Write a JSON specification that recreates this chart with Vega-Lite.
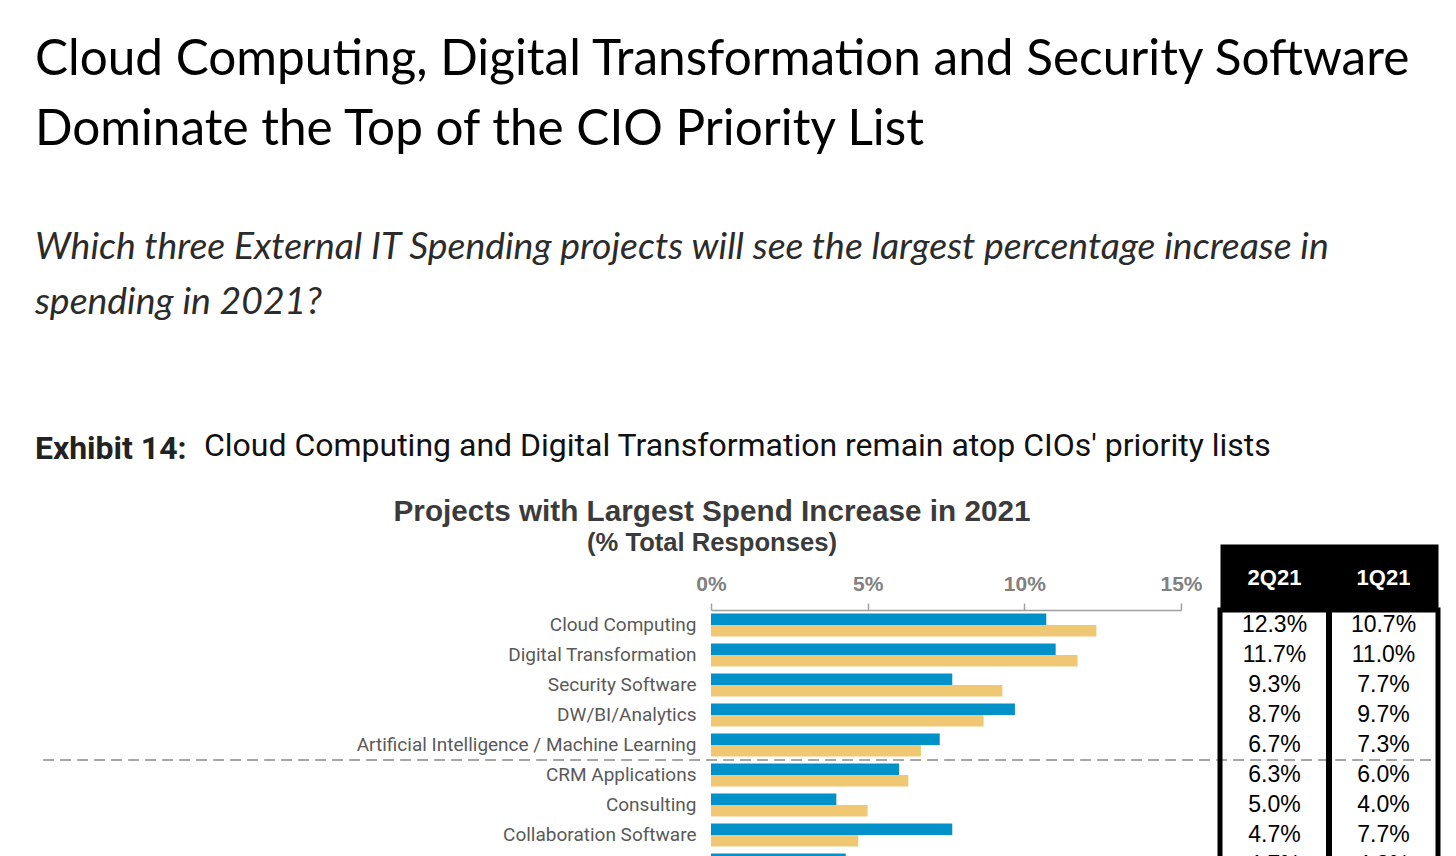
{
  "$schema": "https://vega.github.io/schema/vega-lite/v6.json",
  "background": "white",
  "padding": {"left": 34, "top": 34, "right": 5, "bottom": 0},
  "title": {
    "text": ["Cloud Computing, Digital Transformation and Security Software", "Dominate the Top of the CIO Priority List"],
    "subtitle": ["Which three External IT Spending projects will see the largest percentage increase in", "spending in 2021?"],
    "anchor": "start",
    "dx": 0,
    "font": "Lato",
    "fontSize": 49.5,
    "fontWeight": "normal",
    "color": "#000000",
    "lineHeight": 70,
    "subtitleFont": "Lato",
    "subtitleFontSize": 37.4,
    "subtitleFontStyle": "italic",
    "subtitleColor": "#2b2b2b",
    "subtitleLineHeight": 55,
    "subtitlePadding": 74,
    "offset": 107
  },
  "datasets": {
    "rows": [
      {"category": "Cloud Computing", "period": "2Q21", "value": 0.123},
      {"category": "Cloud Computing", "period": "1Q21", "value": 0.107},
      {"category": "Digital Transformation", "period": "2Q21", "value": 0.117},
      {"category": "Digital Transformation", "period": "1Q21", "value": 0.110},
      {"category": "Security Software", "period": "2Q21", "value": 0.093},
      {"category": "Security Software", "period": "1Q21", "value": 0.077},
      {"category": "DW/BI/Analytics", "period": "2Q21", "value": 0.087},
      {"category": "DW/BI/Analytics", "period": "1Q21", "value": 0.097},
      {"category": "Artificial Intelligence / Machine Learning", "period": "2Q21", "value": 0.067},
      {"category": "Artificial Intelligence / Machine Learning", "period": "1Q21", "value": 0.073},
      {"category": "CRM Applications", "period": "2Q21", "value": 0.063},
      {"category": "CRM Applications", "period": "1Q21", "value": 0.060},
      {"category": "Consulting", "period": "2Q21", "value": 0.050},
      {"category": "Consulting", "period": "1Q21", "value": 0.040},
      {"category": "Collaboration Software", "period": "2Q21", "value": 0.047},
      {"category": "Collaboration Software", "period": "1Q21", "value": 0.077},
      {"category": "ERP Applications", "period": "2Q21", "value": 0.047},
      {"category": "ERP Applications", "period": "1Q21", "value": 0.043}
    ]
  },
  "vconcat": [
    {
      "title": {
        "text": "Exhibit 14:",
        "anchor": "start",
        "dx": -8,
        "font": "Roboto",
        "fontSize": 32,
        "fontWeight": "bold",
        "color": "#222222",
        "offset": -36
      },
      "vconcat": [
        {
          "title": {
            "text": "Cloud Computing and Digital Transformation remain atop CIOs' priority lists",
            "anchor": "start",
            "dx": 161,
            "font": "Roboto",
            "fontSize": 32,
            "fontWeight": "normal",
            "color": "#111111",
            "offset": 34
          },
          "bounds": "flush",
          "spacing": 39,
          "hconcat": [
            {
              "width": 470,
              "height": 270,
              "data": {"name": "rows"},
              "view": {"stroke": null},
              "title": {
                "text": "Projects with Largest Spend Increase in 2021",
                "subtitle": "(% Total Responses)",
                "anchor": "middle",
                "frame": "group",
                "dx": -234,
                "font": "Liberation Sans",
                "fontSize": 29.7,
                "fontWeight": "bold",
                "color": "#3b3b3b",
                "subtitleFont": "Liberation Sans",
                "subtitleFontSize": 25.6,
                "subtitleFontWeight": "bold",
                "subtitleColor": "#3b3b3b",
                "subtitlePadding": 4,
                "offset": 15
              },
              "layer": [
                {
                  "mark": {"type": "bar"},
                  "encoding": {
                    "y": {
                      "field": "category",
                      "type": "nominal",
                      "sort": null,
                      "scale": {"paddingInner": 0.23, "paddingOuter": 0.115},
                      "axis": {
                        "title": null,
                        "domain": false,
                        "ticks": false,
                        "labelFont": "Roboto",
                        "labelFontSize": 19,
                        "labelColor": "#595959",
                        "labelPadding": 15,
                        "labelLimit": 500
                      }
                    },
                    "yOffset": {"field": "period", "type": "nominal", "sort": ["1Q21", "2Q21"]},
                    "x": {
                      "field": "value",
                      "type": "quantitative",
                      "scale": {"domain": [0, 0.15], "nice": false},
                      "axis": {
                        "orient": "top",
                        "values": [0, 0.05, 0.1, 0.15],
                        "format": ".0%",
                        "title": null,
                        "grid": false,
                        "domainColor": "#a0a0a0",
                        "domainWidth": 1.5,
                        "tickColor": "#a0a0a0",
                        "tickSize": 7,
                        "tickWidth": 1.5,
                        "labelFont": "Liberation Sans",
                        "labelFontSize": 21,
                        "labelFontWeight": "bold",
                        "labelColor": "#808080",
                        "labelPadding": 9,
                        "labelFlush": false
                      }
                    },
                    "color": {
                      "field": "period",
                      "type": "nominal",
                      "scale": {"domain": ["1Q21", "2Q21"], "range": ["#0091c9", "#f0c874"]},
                      "legend": null
                    }
                  }
                },
                {
                  "mark": {"type": "rule", "color": "#a6a6a6", "strokeWidth": 2, "strokeDash": [10, 7], "yOffset": -3.5},
                  "encoding": {
                    "y": {"datum": "CRM Applications", "type": "nominal", "bandPosition": 0},
                    "x": {"datum": -0.2129, "type": "quantitative"},
                    "x2": {"datum": 0.2323}
                  }
                }
              ]
            },
            {
              "width": 218,
              "height": 270,
              "data": {"name": "rows"},
              "view": {"stroke": "black", "strokeWidth": 5},
              "resolve": {"axis": {"x": "independent"}},
              "layer": [
                {
                  "mark": {"type": "text", "font": "Liberation Sans", "fontSize": 23, "color": "black"},
                  "encoding": {
                    "y": {
                      "field": "category",
                      "type": "nominal",
                      "sort": null,
                      "scale": {"paddingInner": 0.23, "paddingOuter": 0.115},
                      "axis": null
                    },
                    "x": {
                      "field": "period",
                      "type": "nominal",
                      "sort": ["2Q21", "1Q21"],
                      "scale": {"paddingInner": 0, "paddingOuter": 0},
                      "axis": {
                        "orient": "top",
                        "title": null,
                        "ticks": false,
                        "labels": false,
                        "domain": true,
                        "domainColor": "black",
                        "domainWidth": 66,
                        "offset": 33
                      }
                    },
                    "text": {"field": "value", "type": "quantitative", "format": ".1%"}
                  }
                },
                {
                  "mark": {"type": "rule", "color": "black", "strokeWidth": 5},
                  "encoding": {
                    "x": {
                      "datum": "1Q21",
                      "type": "nominal",
                      "bandPosition": 0,
                      "axis": {
                        "orient": "top",
                        "title": null,
                        "ticks": false,
                        "domain": false,
                        "offset": 33,
                        "labelAngle": 0,
                        "labelColor": "white",
                        "labelFont": "Liberation Sans",
                        "labelFontWeight": "bold",
                        "labelFontSize": 22,
                        "labelPadding": 0,
                        "labelBaseline": "middle"
                      }
                    }
                  }
                }
              ]
            }
          ]
        }
      ]
    }
  ]
}
